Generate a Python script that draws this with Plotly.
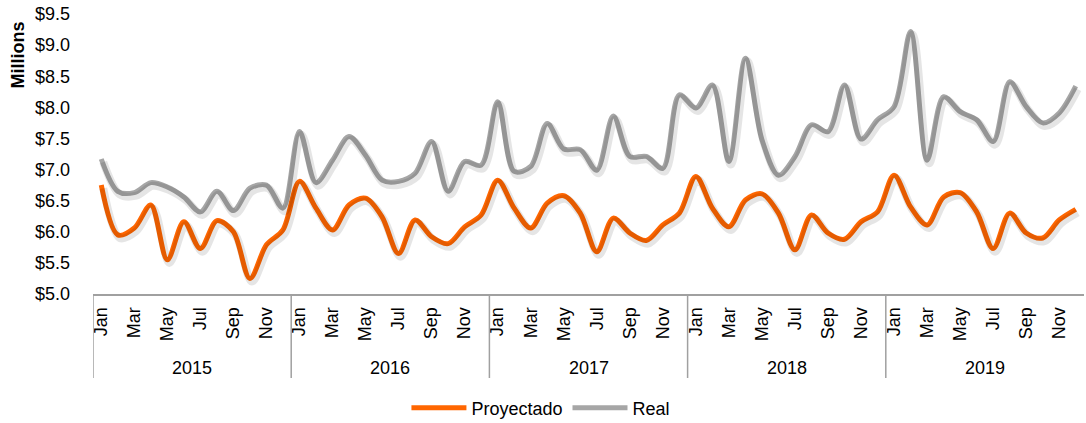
import plotly.graph_objects as go

years = ["2015", "2016", "2017", "2018", "2019"]
months = ["Jan", "Feb", "Mar", "Apr", "May", "Jun", "Jul", "Aug", "Sep", "Oct", "Nov", "Dec"]
shown_months = ["Jan", "Mar", "May", "Jul", "Sep", "Nov"]

proyectado = [
    6.75, 5.95, 6.06, 6.43, 5.55, 6.16, 5.73, 6.18, 6.00, 5.25, 5.79, 6.03,
    6.81, 6.38, 6.03, 6.43, 6.54, 6.24, 5.65, 6.19, 5.92, 5.81, 6.08, 6.27,
    6.83, 6.38, 6.06, 6.46, 6.58, 6.30, 5.68, 6.22, 5.98, 5.86, 6.11, 6.30,
    6.89, 6.38, 6.08, 6.51, 6.61, 6.30, 5.71, 6.27, 5.98, 5.88, 6.16, 6.32,
    6.91, 6.40, 6.11, 6.56, 6.63, 6.32, 5.73, 6.30, 5.98, 5.90, 6.19, 6.36,
]
real = [
    7.17, 6.65, 6.63, 6.79, 6.72, 6.56, 6.32, 6.65, 6.34, 6.70, 6.75, 6.38,
    7.61, 6.79, 7.15, 7.53, 7.23, 6.83, 6.81, 6.94, 7.45, 6.65, 7.13, 7.07,
    8.09, 6.97, 7.05, 7.74, 7.33, 7.32, 6.99, 7.86, 7.21, 7.21, 7.02, 8.20,
    7.99, 8.36, 7.13, 8.79, 7.48, 6.91, 7.21, 7.72, 7.61, 8.36, 7.49, 7.80,
    8.01, 9.22, 7.15, 8.17, 7.93, 7.80, 7.45, 8.41, 8.01, 7.75, 7.91, 8.34,
]

x = list(range(len(years) * len(months)))
tickvals = [i for i in x if months[i % 12] in shown_months]
ticktext = [months[i % 12] for i in tickvals]

FONT = "Liberation Sans, Arial, sans-serif"
AXIS_GRAY = "#A0A0A0"
FS = 18
X_RANGE = [-0.5, 59.5]
Y_RANGE = [5.0, 9.5]
# soft drop shadow: same data drawn on an overlay axis nudged ~2px right / ~3px down
SHADOW_DX = 0.12
SHADOW_DY = 0.05

fig = go.Figure()
for series in (proyectado, real):
    fig.add_trace(go.Scatter(x=x, y=series, mode="lines", showlegend=False, hoverinfo="skip",
                             xaxis="x2", yaxis="y2",
                             line=dict(color="rgba(0,0,0,0.10)", width=8, shape="spline", smoothing=0.9)))
fig.add_trace(go.Scatter(x=x, y=proyectado, name="Proyectado", mode="lines",
                         line=dict(color="#FF6600", width=5, shape="spline", smoothing=0.9)))
fig.add_trace(go.Scatter(x=x, y=real, name="Real", mode="lines",
                         line=dict(color="#A6A6A6", width=5, shape="spline", smoothing=0.9)))

# year separators and labels
for k, yr in enumerate(years):
    fig.add_shape(type="line", xref="x", yref="paper", x0=k * 12 - 0.5, x1=k * 12 - 0.5,
                  y0=0, y1=-0.30, line=dict(color=AXIS_GRAY, width=1.5))
    fig.add_annotation(xref="x", yref="paper", x=k * 12 + 5.5, y=-0.264, text=yr,
                       showarrow=False, font=dict(family=FONT, size=FS, color="#000000"),
                       xanchor="center", yanchor="middle")

fig.add_annotation(xref="paper", yref="paper", x=-0.0757, y=0.855, text="<b>Millions</b>",
                   textangle=-90, showarrow=False, xanchor="center", yanchor="middle",
                   font=dict(family=FONT, size=FS, color="#000000"))

fig.update_layout(
    width=1086, height=423,
    margin=dict(l=93, r=2, t=14, b=129, autoexpand=False),
    paper_bgcolor="white", plot_bgcolor="white",
    font=dict(family=FONT, size=FS, color="#000000"),
    showlegend=True,
    legend=dict(orientation="h", x=0.452, y=-0.407, xanchor="center", yanchor="middle",
                itemwidth=55, font=dict(family=FONT, size=FS, color="#000000")),
    xaxis=dict(range=X_RANGE, tickmode="array", tickvals=tickvals, ticktext=ticktext,
               tickangle=-90, showgrid=False, zeroline=False, showline=True, automargin=False,
               linecolor=AXIS_GRAY, linewidth=2, ticks="", ticklabelstandoff=4,
               tickfont=dict(family=FONT, size=FS, color="#000000")),
    yaxis=dict(range=Y_RANGE, dtick=0.5, tick0=5.0, tickformat="$.1f", showgrid=False,
               zeroline=False, showline=False, ticks="", ticklabelstandoff=22, automargin=False,
               tickfont=dict(family=FONT, size=FS, color="#000000")),
    xaxis2=dict(range=[X_RANGE[0] - SHADOW_DX, X_RANGE[1] - SHADOW_DX], overlaying="x",
                visible=False, automargin=False),
    yaxis2=dict(range=[Y_RANGE[0] + SHADOW_DY, Y_RANGE[1] + SHADOW_DY], overlaying="y",
                visible=False, automargin=False),
)

fig.write_html("out.html", config={"displayModeBar": False},
               post_script="document.body.style.margin='0';")
